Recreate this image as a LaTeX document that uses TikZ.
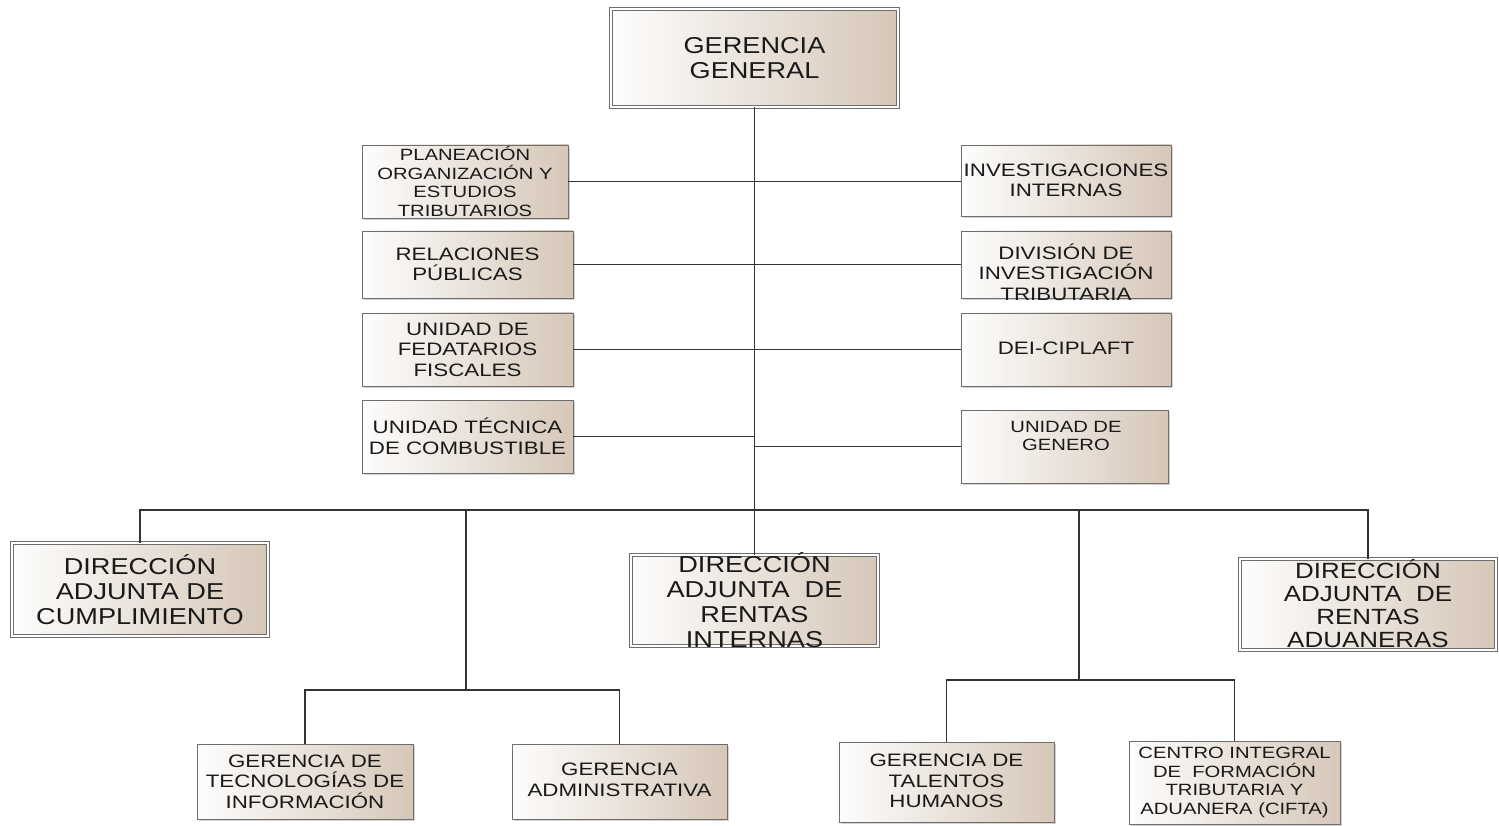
\documentclass[tikz,border=0pt]{standalone}
\usepackage{fontspec}
\usepackage{tikz}
\usetikzlibrary{shadows}

\newfontfamily\orgfont[FakeStretch=1.18]{Liberation Sans}
\newfontfamily\orgsmallfont[FakeStretch=1.24]{Liberation Sans}
\definecolor{boxtan}{RGB}{214,199,184}
\definecolor{boxline}{RGB}{110,110,110}

\tikzset{
  box/.style={draw=boxline, line width=0.9pt, left color=white!97!boxtan, right color=boxtan,
    inner sep=0pt, drop shadow={shadow xshift=2pt, shadow yshift=-2pt, opacity=0.35}},
  bigbox/.style={box, double=white, double distance=1.6pt, line width=0.8pt},
  bigtxt/.style={align=center, inner sep=0pt, text=black!90, font=\orgfont\fontsize{23}{25}\selectfont},
  smalltxt/.style={align=center, inner sep=0pt, text=black!90, font=\orgsmallfont\fontsize{18}{20.5}\selectfont},
  tinytxt/.style={align=center, inner sep=0pt, text=black!90, font=\orgsmallfont\fontsize{16.3}{18.5}\selectfont},
  link/.style={draw=black!80, line width=1.1pt}
}

\begin{document}
\begin{tikzpicture}[x=1pt,y=-1pt]
  \useasboundingbox (0,0) rectangle (1499,826);

  % top
  \node[bigbox, minimum width=287pt, minimum height=98pt] (gg) at (754.5,58) {};
  \node[bigtxt] (gg-t) at (gg) {GERENCIA\\GENERAL};

  % staff units, left
  \node[box, minimum width=206pt, minimum height=73pt] (plan) at (465,181.5) {};
  \node[tinytxt] (plan-t) at (plan) {PLANEACIÓN\\ORGANIZACIÓN Y\\ESTUDIOS\\TRIBUTARIOS};
  \node[box, minimum width=211pt, minimum height=67pt] (rel) at (467.5,264.5) {};
  \node[smalltxt] (rel-t) at (rel) {RELACIONES\\PÚBLICAS};
  \node[box, minimum width=211pt, minimum height=73pt] (uf) at (467.5,349.5) {};
  \node[smalltxt] (uf-t) at (uf) {UNIDAD DE\\FEDATARIOS\\FISCALES};
  \node[box, minimum width=211pt, minimum height=73pt] (utc) at (467.5,436.5) {};
  \node[smalltxt] (utc-t) at (utc) {UNIDAD TÉCNICA\\DE COMBUSTIBLE};

  % staff units, right
  \node[box, minimum width=210pt, minimum height=71pt] (ii) at (1066,180.5) {};
  \node[smalltxt] (ii-t) at (ii) {INVESTIGACIONES\\INTERNAS};
  \node[box, minimum width=210pt, minimum height=67pt] (dit) at (1066,264.5) {};
  \node[smalltxt] (dit-t) at (1066,272) {DIVISIÓN DE\\INVESTIGACIÓN\\TRIBUTARIA};
  \node[box, minimum width=210pt, minimum height=73pt] (dei) at (1066,349.5) {};
  \node[smalltxt] (dei-t) at (1066,348) {DEI-CIPLAFT};
  \node[box, minimum width=207pt, minimum height=73pt] (ug) at (1064.5,446.5) {};
  \node[tinytxt] (ug-t) at (1066,436) {UNIDAD DE\\GENERO};

  % direcciones adjuntas
  \node[bigbox, minimum width=256pt, minimum height=93pt] (dac) at (140,589.5) {};
  \node[bigtxt] (dac-t) at (dac) {DIRECCIÓN\\ADJUNTA DE\\CUMPLIMIENTO};
  \node[bigbox, minimum width=247pt, minimum height=91pt] (dari) at (754.5,600.5) {};
  \node[bigtxt] (dari-t) at (dari) {DIRECCIÓN\\ADJUNTA~ DE\\RENTAS\\INTERNAS};
  \node[bigbox, minimum width=256pt, minimum height=91pt] (dara) at (1368,604.5) {};
  \node[bigtxt, font=\orgfont\fontsize{22}{23}\selectfont] (dara-t) at (1368,603.5) {DIRECCIÓN\\ADJUNTA~ DE\\RENTAS\\ADUANERAS};

  % gerencias
  \node[box, minimum width=216pt, minimum height=75pt] (gti) at (305,781.5) {};
  \node[smalltxt] (gti-t) at (gti) {GERENCIA DE\\TECNOLOGÍAS DE\\INFORMACIÓN};
  \node[box, minimum width=215pt, minimum height=75pt] (ga) at (619.5,781.5) {};
  \node[smalltxt] (ga-t) at (619.5,780) {GERENCIA\\ADMINISTRATIVA};
  \node[box, minimum width=215pt, minimum height=80pt] (gth) at (946.5,782) {};
  \node[smalltxt] (gth-t) at (946.5,781) {GERENCIA DE\\TALENTOS\\HUMANOS};
  \node[box, minimum width=211pt, minimum height=83pt] (cifta) at (1234.5,782.5) {};
  \node[tinytxt] (cifta-t) at (cifta) {CENTRO INTEGRAL\\DE~ FORMACIÓN\\TRIBUTARIA Y\\ADUANERA (CIFTA)};

  % connectors
  \coordinate (busl) at (140,510);
  \coordinate (busr) at (1368,510);
  \coordinate (j1) at (466,510);
  \coordinate (ta) at (466,690);
  \coordinate (j2) at (1079,510);
  \coordinate (tb) at (1079,680);

  \draw[link] (gg.south) -- (dari.north);
  \draw[link] (plan.east) -- (plan.east -| ii.west);
  \draw[link] (rel.east) -- (dit.west);
  \draw[link] (uf.east) -- (dei.west);
  \draw[link] (utc.east) -- (utc.east -| gg.south);
  \draw[link] (ug.west) -- (ug.west -| gg.south);
  \draw[link] (dac.north) -- (busl) -- (busr) -- (dara.north);
  \draw[link] (j1) -- (ta);
  \draw[link] (gti.north) |- (ta) -| (ga.north);
  \draw[link] (j2) -- (tb);
  \draw[link] (gth.north) |- (tb) -| (cifta.north);
\end{tikzpicture}
\end{document}
